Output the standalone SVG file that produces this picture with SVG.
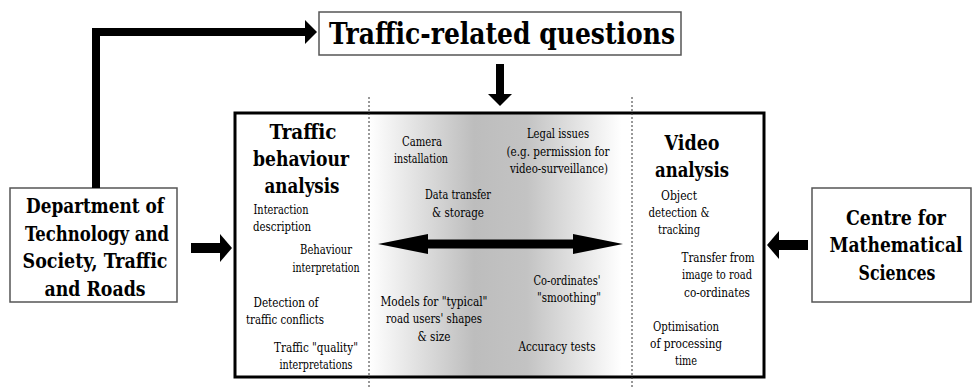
<svg xmlns="http://www.w3.org/2000/svg" width="972" height="388" viewBox="0 0 972 388">
<defs>
<linearGradient id="g" gradientUnits="userSpaceOnUse" x1="369" y1="0" x2="632" y2="0">
<stop offset="0" stop-color="#ffffff"/>
<stop offset="0.4" stop-color="#bdbdbd"/>
<stop offset="0.6" stop-color="#c3c3c3"/>
<stop offset="0.96" stop-color="#ffffff"/>
</linearGradient>
<style>
text{font-family:"DejaVu Serif Condensed","DejaVu Serif",serif;font-stretch:condensed}
.t{fill:#000;text-anchor:middle}
.s{font-size:12px}
.b{font-size:20px;font-weight:bold}
.box{fill:#fff;stroke:#555;stroke-width:1.5}
.dash{stroke:#333;stroke-width:1;stroke-dasharray:2,2}
</style>
</defs>
<rect width="972" height="388" fill="#fff"/>

<g id="main">
<rect x="369" y="113" width="263" height="264" fill="url(#g)"/>
<rect x="235" y="113" width="529" height="264" fill="none" stroke="#000" stroke-width="3"/>
</g>

<g id="dividers">
<line class="dash" x1="369" y1="97" x2="369" y2="388"/>
<line class="dash" x1="632" y1="97" x2="632" y2="388"/>
</g>

<g id="questions">
<rect class="box" x="319" y="12" width="362" height="43"/>
<text class="t" x="502" y="44" style="font-size:30px;font-weight:bold" textLength="346" lengthAdjust="spacingAndGlyphs">Traffic-related questions</text>
</g>

<g id="dept">
<rect class="box" x="10" y="188" width="167" height="114"/>
<text class="t b" x="95" y="213" textLength="138" lengthAdjust="spacingAndGlyphs">Department of</text>
<text class="t b" x="97" y="241" textLength="144" lengthAdjust="spacingAndGlyphs">Technology and</text>
<text class="t b" x="95" y="268" textLength="145" lengthAdjust="spacingAndGlyphs">Society, Traffic</text>
<text class="t b" x="95" y="296" textLength="101" lengthAdjust="spacingAndGlyphs">and Roads</text>
</g>

<g id="centre">
<rect class="box" x="812" y="188" width="159" height="114"/>
<text class="t b" x="896" y="225" textLength="100" lengthAdjust="spacingAndGlyphs">Centre for</text>
<text class="t b" x="896" y="252" textLength="133" lengthAdjust="spacingAndGlyphs">Mathematical</text>
<text class="t b" x="897" y="280" textLength="77" lengthAdjust="spacingAndGlyphs">Sciences</text>
</g>

<g id="traffic-behaviour">
<text class="t b" x="303" y="139" textLength="67" lengthAdjust="spacingAndGlyphs">Traffic</text>
<text class="t b" x="301" y="166" textLength="96" lengthAdjust="spacingAndGlyphs">behaviour</text>
<text class="t b" x="302" y="193" textLength="75" lengthAdjust="spacingAndGlyphs">analysis</text>
<text class="t s" x="281" y="214" textLength="55" lengthAdjust="spacingAndGlyphs">Interaction</text>
<text class="t s" x="282" y="231" textLength="58" lengthAdjust="spacingAndGlyphs">description</text>
<text class="t s" x="326" y="254" textLength="52" lengthAdjust="spacingAndGlyphs">Behaviour</text>
<text class="t s" x="326" y="272" textLength="67" lengthAdjust="spacingAndGlyphs">interpretation</text>
<text class="t s" x="286" y="307" textLength="65" lengthAdjust="spacingAndGlyphs">Detection of</text>
<text class="t s" x="285" y="324" textLength="78" lengthAdjust="spacingAndGlyphs">traffic conflicts</text>
<text class="t s" x="316" y="352" textLength="84" lengthAdjust="spacingAndGlyphs">Traffic "quality"</text>
<text class="t s" x="316" y="369" textLength="73" lengthAdjust="spacingAndGlyphs">interpretations</text>
</g>

<g id="middle">
<text class="t s" x="422" y="146" textLength="40" lengthAdjust="spacingAndGlyphs">Camera</text>
<text class="t s" x="421" y="163" textLength="54" lengthAdjust="spacingAndGlyphs">installation</text>
<text class="t s" x="558" y="138" textLength="62" lengthAdjust="spacingAndGlyphs">Legal issues</text>
<text class="t s" x="558" y="156" textLength="103" lengthAdjust="spacingAndGlyphs">(e.g. permission for</text>
<text class="t s" x="559" y="173" textLength="98" lengthAdjust="spacingAndGlyphs">video-surveillance)</text>
<text class="t s" x="458" y="199" textLength="66" lengthAdjust="spacingAndGlyphs">Data transfer</text>
<text class="t s" x="458" y="217" textLength="52" lengthAdjust="spacingAndGlyphs">&amp; storage</text>
<text class="t s" x="567" y="285" textLength="67" lengthAdjust="spacingAndGlyphs">Co-ordinates'</text>
<text class="t s" x="569" y="302" textLength="64" lengthAdjust="spacingAndGlyphs">"smoothing"</text>
<text class="t s" x="434" y="306" textLength="107" lengthAdjust="spacingAndGlyphs">Models for "typical"</text>
<text class="t s" x="434" y="323" textLength="96" lengthAdjust="spacingAndGlyphs">road users' shapes</text>
<text class="t s" x="434" y="341" textLength="33" lengthAdjust="spacingAndGlyphs">&amp; size</text>
<text class="t s" x="557" y="351" textLength="77" lengthAdjust="spacingAndGlyphs">Accuracy tests</text>
</g>

<g id="video">
<text class="t b" x="692" y="150" textLength="55" lengthAdjust="spacingAndGlyphs">Video</text>
<text class="t b" x="692" y="177" textLength="74" lengthAdjust="spacingAndGlyphs">analysis</text>
<text class="t s" x="679" y="200" textLength="36" lengthAdjust="spacingAndGlyphs">Object</text>
<text class="t s" x="679" y="217" textLength="61" lengthAdjust="spacingAndGlyphs">detection &amp;</text>
<text class="t s" x="679" y="234" textLength="42" lengthAdjust="spacingAndGlyphs">tracking</text>
<text class="t s" x="718" y="262" textLength="73" lengthAdjust="spacingAndGlyphs">Transfer from</text>
<text class="t s" x="717" y="279" textLength="70" lengthAdjust="spacingAndGlyphs">image to road</text>
<text class="t s" x="717" y="297" textLength="66" lengthAdjust="spacingAndGlyphs">co-ordinates</text>
<text class="t s" x="686" y="331" textLength="66" lengthAdjust="spacingAndGlyphs">Optimisation</text>
<text class="t s" x="686" y="348" textLength="72" lengthAdjust="spacingAndGlyphs">of processing</text>
<text class="t s" x="686" y="365" textLength="22" lengthAdjust="spacingAndGlyphs">time</text>
</g>

<g id="connectors" fill="#000">
<polyline points="96,188 96,32 306,32" fill="none" stroke="#000" stroke-width="8" stroke-linejoin="miter"/>
<polygon points="305,20 317,32 305,44"/>
<rect x="496" y="64" width="8" height="31"/>
<polygon points="488,94 512,94 500,106"/>
<rect x="191" y="243" width="30" height="10"/>
<polygon points="220,234 232,248 220,262"/>
<rect x="778" y="240" width="30" height="10"/>
<polygon points="779,231 767,245 779,259"/>
<polygon points="378,244 428,234 428,239.5 573,239.5 573,234 623,244 573,254 573,248.5 428,248.5 428,254"/>
</g>
</svg>
